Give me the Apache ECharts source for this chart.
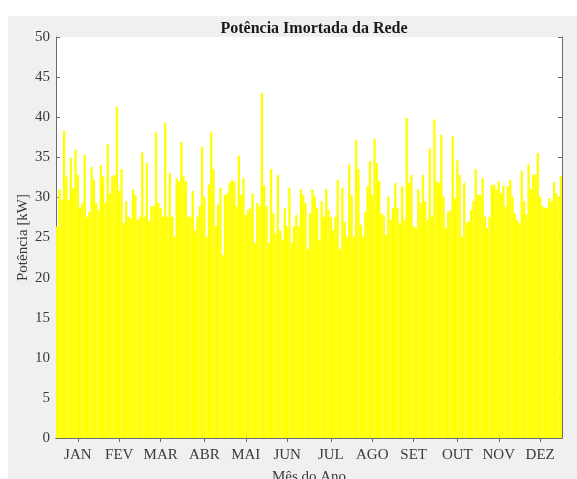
<!DOCTYPE html>
<html>
<head>
<meta charset="utf-8">
<script src="https://cdn.jsdelivr.net/npm/echarts@6/dist/echarts.min.js"></script>
<style>
  html, body { margin: 0; padding: 0; background: #fff; overflow: hidden; }
  #chart { position: absolute; left: 8px; top: 16px; width: 569px; height: 463px; }
</style>
</head>
<body>
<div id="chart"></div>
<script>
// month tick labels
const months = ['JAN', 'FEV', 'MAR', 'ABR', 'MAI', 'JUN', 'JUL', 'AGO', 'SET', 'OUT', 'NOV', 'DEZ'];

// imported power [kW] left to right
const potencia = [
  26.4, 31.0, 29.7, 38.3, 32.6, 29.7, 34.9, 31.2, 35.9, 32.8,
  28.7, 29.3, 35.3, 27.6, 28.2, 33.8, 32.2, 29.3, 28.4, 34.0,
  32.6, 29.3, 36.7, 30.5, 32.6, 32.8, 41.3, 30.8, 33.5, 26.8,
  29.5, 27.6, 27.4, 31.0, 30.3, 27.2, 27.6, 35.6, 27.6, 34.3,
  27.0, 28.9, 28.9, 38.1,
  29.3, 28.7, 27.6, 39.3, 27.6, 33.0, 27.6, 25.1, 32.4, 32.0,
  36.9, 32.6, 32.0, 27.6, 27.6, 30.8, 25.9, 27.6, 28.9, 36.3,
  30.1, 25.1, 31.6, 38.1, 33.5, 26.4, 29.1, 31.2, 22.8, 30.3,
  30.5, 31.8, 32.2, 32.0, 28.9, 35.2, 30.3, 32.4, 27.8, 28.4,
  28.7, 30.5, 24.3,
  29.3, 28.9, 43.0, 31.5, 28.9, 24.3, 33.5, 28.0, 25.5, 32.8,
  25.9, 24.7, 28.7, 26.4, 31.2, 24.3, 26.4, 27.8, 26.4, 31.0,
  30.3, 29.3, 23.6, 28.0, 31.0, 30.1, 28.7, 24.7, 29.5, 27.6,
  31.0, 28.4, 27.6, 25.9, 27.6, 32.2, 23.6, 31.2, 27.0, 25.1,
  34.1, 30.3, 25.1, 37.2,
  33.5, 26.6, 25.1, 28.2, 31.4, 34.5, 30.3, 37.3, 34.3, 32.0,
  28.0, 27.8, 25.3, 30.1, 27.2, 28.7, 31.8, 28.7, 26.8, 31.4,
  27.2, 39.9, 31.8, 32.8, 26.4, 26.2, 31.0, 29.3, 32.8, 29.5,
  27.2, 36.1, 27.6, 39.7, 32.0, 31.8, 37.8, 30.1, 26.2, 28.2,
  28.4, 37.6, 29.9, 34.7,
  32.8, 25.1, 31.8, 26.8, 27.0, 28.4, 29.5, 33.5, 30.3, 30.3,
  32.4, 27.6, 26.2, 27.6, 31.5, 31.6, 31.0, 32.0, 30.5, 31.5,
  28.9, 31.4, 32.2, 30.1, 28.0, 27.2, 26.8, 33.3, 29.5, 27.8,
  34.1, 31.0, 32.8, 32.9, 35.5, 30.1, 28.9, 28.7, 28.7, 29.9,
  29.5, 31.9, 30.5, 30.1, 32.7
];

const N = potencia.length;
const categorias = potencia.map((_, i) => i);
// month label sits in the middle of each twelfth of the year
const labelIdx = months.map((_, m) => Math.round((m + 0.5) * N / 12 - 0.5));
const isMonth = (index) => labelIdx.includes(index);

const lineColor = '#6b6b6b';
const textColor = '#3a3a3a';
const font = 'Liberation Serif';

var myChart = echarts.init(document.getElementById('chart'));
myChart.setOption({
  animation: false,
  backgroundColor: '#f0f0f0',
  textStyle: { fontFamily: font },
  title: {
    text: 'Potência Imortada da Rede',
    left: 301,
    top: 0,
    textAlign: 'center',
    textStyle: {
      fontFamily: font,
      fontSize: 16,
      fontWeight: 'bold',
      color: '#1a1a1a'
    }
  },
  grid: {
    left: 48,
    top: 21,
    right: 15,
    bottom: 41,
    containLabel: false,
    outerBoundsMode: 'none',
    show: true,
    backgroundColor: '#ffffff',
    borderWidth: 0
  },
  xAxis: [
    {
      type: 'category',
      data: categorias,
      position: 'bottom',
      name: 'Mês do Ano',
      nameLocation: 'middle',
      nameGap: 32,
      nameTextStyle: { fontFamily: font, fontSize: 15, color: textColor },
      axisLine: { show: true, lineStyle: { color: lineColor } },
      axisTick: { show: true, inside: true, length: 4, interval: isMonth, alignWithLabel: true, lineStyle: { color: lineColor } },
      axisLabel: {
        interval: isMonth,
        margin: 10,
        fontFamily: font,
        fontSize: 15,
        color: textColor,
        formatter: (value, index) => months[labelIdx.indexOf(index)]
      },
      splitLine: { show: false }
    },
    {
      type: 'category',
      data: categorias,
      position: 'top',
      axisLine: { show: true, lineStyle: { color: lineColor } },
      axisTick: { show: true, inside: true, length: 4, interval: isMonth, alignWithLabel: true, lineStyle: { color: lineColor } },
      axisLabel: { show: false },
      splitLine: { show: false }
    }
  ],
  yAxis: [
    {
      type: 'value',
      min: 0,
      max: 50,
      interval: 5,
      position: 'left',
      name: 'Potência [kW]',
      nameLocation: 'middle',
      nameGap: 25,
      nameMoveOverlap: false,
      nameTextStyle: { fontFamily: font, fontSize: 15, color: textColor },
      axisLine: { show: true, lineStyle: { color: lineColor } },
      axisTick: { show: true, inside: true, length: 4, lineStyle: { color: lineColor } },
      axisLabel: { margin: 6, fontFamily: font, fontSize: 15, color: textColor },
      splitLine: { show: false }
    },
    {
      type: 'value',
      min: 0,
      max: 50,
      interval: 5,
      position: 'right',
      axisLine: { show: true, lineStyle: { color: lineColor } },
      axisTick: { show: true, inside: true, length: 4, lineStyle: { color: lineColor } },
      axisLabel: { show: false },
      splitLine: { show: false }
    }
  ],
  series: [
    {
      type: 'bar',
      xAxisIndex: 0,
      yAxisIndex: 0,
      data: potencia,
      barCategoryGap: '0%',
      itemStyle: { color: '#ffff00' }
    }
  ]
});
</script>
</body>
</html>
